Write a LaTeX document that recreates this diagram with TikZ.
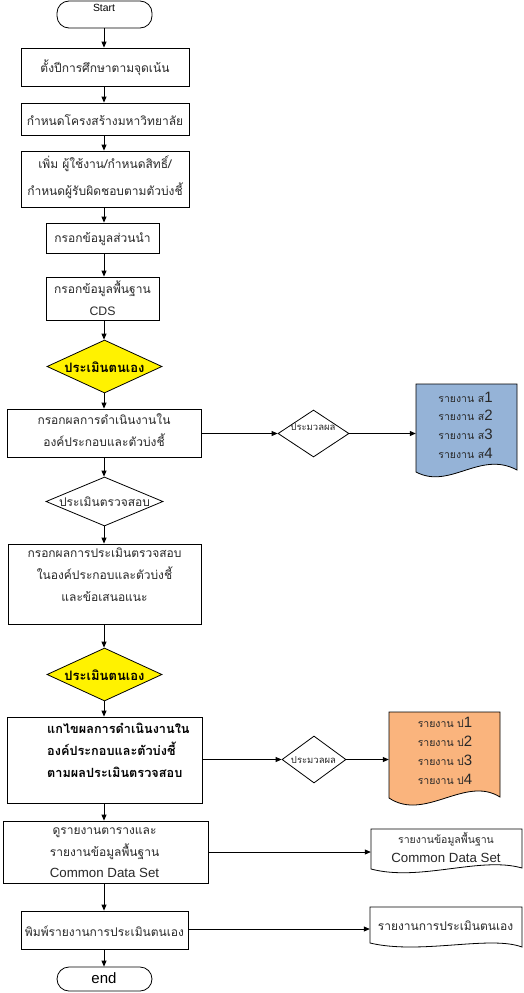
\documentclass[tikz,border=0pt]{standalone}
\usepackage{fontspec}
\setmainfont{Liberation Sans}
\newfontfamily\thai[Script=Thai]{Loma}
\usetikzlibrary{shapes.geometric,arrows.meta}
\definecolor{docblue}{RGB}{149,179,215}
\definecolor{docorange}{RGB}{250,180,125}
\definecolor{txtgray}{RGB}{40,40,40}
\tikzset{
  box/.style={draw=black, line width=0.8pt, fill=white, inner sep=0, rectangle},
  term/.style={draw=black, line width=0.8pt, fill=white, inner sep=0, rectangle, rounded corners=12pt},
  dia/.style={draw=black, line width=0.8pt, diamond, inner sep=0},
  ydia/.style={dia, fill=yellow},
  th/.style={inner sep=0, align=center, text=txtgray, font=\thai\fontsize{12}{22}\selectfont},
  thb/.style={inner sep=0, align=left, text=black, font=\thai\bfseries\fontsize{12.7}{22}\selectfont},
  lat/.style={inner sep=0, text=black},
  arr/.style={-{Triangle[length=6pt,width=5pt]}, line width=0.8pt},
  ghost/.style={draw=none, inner sep=0, rectangle}
}
\begin{document}
\begin{tikzpicture}[x=1pt,y=-1pt]
\useasboundingbox (0,0) rectangle (523,993);
\coordinate (ax) at (104,0);
% main column
\node[term, minimum width=95pt, minimum height=27pt] (start) at (104.5,14.5) {};
\node[lat, font=\fontsize{10.4}{12}\selectfont] (starttx) at (104,8) {Start};
\node[box, minimum width=168pt, minimum height=38pt] (b1) at (105,67) {};
\node[th] (b1tx) at (105,68) {ตั้งปีการศึกษาตามจุดเน้น};
\node[box, minimum width=168pt, minimum height=32pt] (b2) at (105,119) {};
\node[th] (b2tx) at (105,120) {กำหนดโครงสร้างมหาวิทยาลัย};
\node[box, minimum width=168pt, minimum height=56pt] (b3) at (105,179) {};
\node[th, font=\thai\fontsize{12}{27}\selectfont] (b3tx) at (105,177) {เพิ่ม ผู้ใช้งาน/กำหนดสิทธิ์/\\กำหนดผู้รับผิดชอบตามตัวบ่งชี้};
\node[box, minimum width=113pt, minimum height=30pt] (b4) at (102.5,238) {};
\node[th] (b4tx) at (102.5,239) {กรอกข้อมูลส่วนนำ};
\node[box, minimum width=113pt, minimum height=43pt] (b5) at (102.5,298.5) {};
\node[th] (b5tx) at (102.5,298) {กรอกข้อมูลพื้นฐาน\\{\fontspec{Liberation Sans}\fontsize{12.3}{22}\selectfont CDS}};
\node[ydia, minimum width=115pt, minimum height=53pt] (d1) at (104.5,366.5) {};
\node[thb, font=\thai\bfseries\fontsize{13}{16}\selectfont] (d1tx) at (104.5,367) {ประเมินตนเอง};
\node[box, minimum width=194pt, minimum height=48pt] (b6) at (104,433) {};
\node[th] (b6tx) at (104,430) {กรอกผลการดำเนินงานใน\\องค์ประกอบและตัวบ่งชี้};
\node[dia, minimum width=117pt, minimum height=49pt] (d2) at (104.5,501.5) {};
\node[th] (d2tx) at (104.5,502) {ประเมินตรวจสอบ};
\node[box, minimum width=193pt, minimum height=80pt] (b7) at (104.5,584) {};
\node[th] (b7tx) at (104.5,575) {กรอกผลการประเมินตรวจสอบ\\ในองค์ประกอบและตัวบ่งชี้\\และข้อเสนอแนะ};
\node[ydia, minimum width=115pt, minimum height=53pt] (d3) at (104.5,674.5) {};
\node[thb, font=\thai\bfseries\fontsize{13}{16}\selectfont] (d3tx) at (104.5,675) {ประเมินตนเอง};
\node[box, minimum width=195pt, minimum height=86pt] (b8) at (104.5,760) {};
\node[thb, anchor=west] (b8tx) at (47,750) {แกไขผลการดำเนินงานใน\\องค์ประกอบและตัวบ่งชี้\\ตามผลประเมินตรวจสอบ};
\node[box, minimum width=205pt, minimum height=62pt] (b9) at (105.5,852) {};
\node[th, font=\thai\fontsize{12}{21.5}\selectfont] (b9tx) at (104.5,853) {ดูรายงานตารางและ\\รายงานข้อมูลพื้นฐาน\\{\fontspec{Liberation Sans}\fontsize{13.3}{21.5}\selectfont Common Data Set}};
\node[box, minimum width=167pt, minimum height=38pt] (b10) at (104.5,930) {};
\node[th] (b10tx) at (104.5,931) {พิมพ์รายงานการประเมินตนเอง};
\node[term, minimum width=95pt, minimum height=24pt] (end) at (104.5,979) {};
\node[lat, font=\fontsize{15}{16}\selectfont] (endtx) at (104,978) {end};
% main arrows
\draw[arr] (ax |- start.south) -- (ax |- b1.north);
\draw[arr] (ax |- b1.south) -- (ax |- b2.north);
\draw[arr] (ax |- b2.south) -- (ax |- b3.north);
\draw[arr] (ax |- b3.south) -- (ax |- b4.north);
\draw[arr] (ax |- b4.south) -- (ax |- b5.north);
\draw[arr] (ax |- b5.south) -- (ax |- d1.north);
\draw[arr] (ax |- d1.south) -- (ax |- b6.north);
\draw[arr] (ax |- b6.south) -- (ax |- d2.north);
\draw[arr] (ax |- d2.south) -- (ax |- b7.north);
\draw[arr] (ax |- b7.south) -- (ax |- d3.north);
\draw[arr] (ax |- d3.south) -- (ax |- b8.north);
\draw[arr] (ax |- b8.south) -- (ax |- b9.north);
\draw[arr] (ax |- b9.south) -- (ax |- b10.north);
\draw[arr] (ax |- b10.south) -- (ax |- end.north);
% right side: processing diamonds
\node[dia, fill=white, minimum width=71pt, minimum height=47pt] (s1) at (313.5,433.5) {};
\node[th, font=\thai\fontsize{9.5}{11}\selectfont] (s1tx) at (313,427) {ประมวลผล};
\node[dia, fill=white, minimum width=64pt, minimum height=47pt] (s2) at (314,759.5) {};
\node[th, font=\thai\fontsize{9.5}{11}\selectfont] (s2tx) at (313.5,760) {ประมวลผล};
% documents
\draw[line width=0.8pt, fill=docblue] (416,384) -- (517,384) -- (517,470) .. controls (480,450) and (450,490) .. (416,472) -- cycle;
\node[ghost, minimum width=101pt, minimum height=90pt] (rs) at (466.5,429) {};
\draw[line width=0.8pt, fill=docorange] (389,712) -- (500,712) -- (500,797) .. controls (465,775) and (425,822) .. (389,798) -- cycle;
\node[ghost, minimum width=111pt, minimum height=96pt] (rp) at (444.5,760) {};
\draw[line width=0.8pt, fill=white] (371,829) -- (522,829) -- (522,868) .. controls (480,856) and (420,882) .. (371,869) -- cycle;
\node[ghost, minimum width=151pt, minimum height=46pt] (rc) at (446.5,852) {};
\draw[line width=0.8pt, fill=white] (370,907) -- (522,907) -- (522,947) .. controls (490,935) and (420,955) .. (370,943) -- cycle;
\node[ghost, minimum width=152pt, minimum height=44pt] (rr) at (446,929) {};
% document texts
\newcommand\bignum[1]{{\fontspec{Liberation Sans}\fontsize{15}{15}\selectfont #1}}
\node[th, font=\thai\fontsize{10.5}{18.7}\selectfont] (rstx) at (465.5,425) {รายงาน ส\bignum{1}\\รายงาน ส\bignum{2}\\รายงาน ส\bignum{3}\\รายงาน ส\bignum{4}};
\node[th, font=\thai\fontsize{10.5}{19}\selectfont] (rptx) at (445,750.5) {รายงาน ป\bignum{1}\\รายงาน ป\bignum{2}\\รายงาน ป\bignum{3}\\รายงาน ป\bignum{4}};
\node[th, font=\thai\fontsize{10.5}{19}\selectfont] (rctx) at (446,847.5) {รายงานข้อมูลพื้นฐาน\\{\fontspec{Liberation Sans}\fontsize{13.3}{19}\selectfont Common Data Set}};
\node[th] (rrtx) at (445.5,926) {รายงานการประเมินตนเอง};
% side arrows
\draw[arr] (b6.east |- s1) -- (s1.west);
\draw[arr] (s1.east) -- (s1.east -| rs.west);
\draw[arr] (b8.east |- s2) -- (s2.west);
\draw[arr] (s2.east) -- (s2.east -| rp.west);
\draw[arr] (b9.east) -- (b9.east -| rc.west);
\draw[arr] (b10.east |- rr) -- (rr.west);
\end{tikzpicture}
\end{document}
